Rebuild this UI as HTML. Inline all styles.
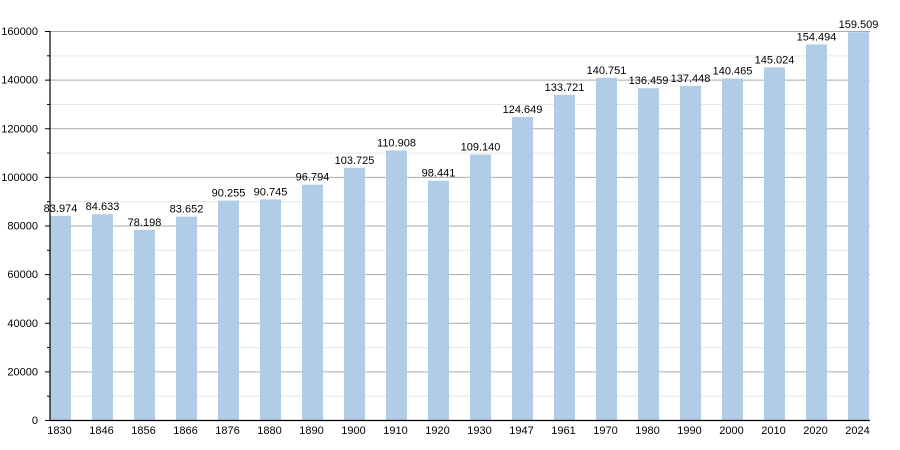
<!DOCTYPE html>
<html><head><meta charset="utf-8"><style>
body{margin:0;background:#fff;}
svg{display:block;font-family:"Liberation Sans",sans-serif;}
</style></head><body>
<svg width="900" height="450" xmlns="http://www.w3.org/2000/svg">
<g id="grid"></g>
<g id="bars"></g>
<line x1="50" y1="31" x2="50" y2="420.5" stroke="#000" stroke-width="1.2"/>
<line x1="50" y1="420.5" x2="870" y2="420.5" stroke="#000" stroke-width="1.2"/>
</svg>
<script>
const vals=[83974,84633,78198,83652,90255,90745,96794,103725,110908,98441,109140,124649,133721,140751,136459,137448,140465,145024,154494,159509];
const yrs=[1830,1846,1856,1866,1876,1880,1890,1900,1910,1920,1930,1947,1961,1970,1980,1990,2000,2010,2020,2024];
const ns="http://www.w3.org/2000/svg";
const svg=document.querySelector('svg');
const g=document.getElementById('grid'),b=document.getElementById('bars');
function el(p,t,a,txt){const e=document.createElementNS(ns,t);for(const k in a)e.setAttribute(k,a[k]);if(txt!=null)e.textContent=txt;p.appendChild(e);return e;}
const Y=v=>420-v*389/160000;
for(let v=0;v<=160000;v+=10000){const y=Y(v)+0.5;const major=v%20000==0;
 if(v>0)el(g,'line',{x1:50,x2:870,y1:y,y2:y,stroke:major?'#aaa':'#e6e6e6','stroke-width':1});
 el(g,'line',{x1:major?45:47,x2:50,y1:y,y2:y,stroke:'#000','stroke-width':1});
 if(major)el(g,'text',{x:38,y:Y(v)+4,'font-size':11,'text-anchor':'end',fill:'#000'},v);}
vals.forEach((v,i)=>{const cx=60.5+i*42;const y=Y(v);
 el(b,'rect',{x:cx-10.5,y:y,width:21,height:420-y,fill:'#b1cce6'});
 el(b,'text',{x:cx,y:y-4,'font-size':11,'text-anchor':'middle',fill:'#000'},(v/1000).toFixed(3));
 el(b,'text',{x:cx-1,y:434,'font-size':11,'text-anchor':'middle',fill:'#000'},yrs[i]);});
</script>
</body></html>
